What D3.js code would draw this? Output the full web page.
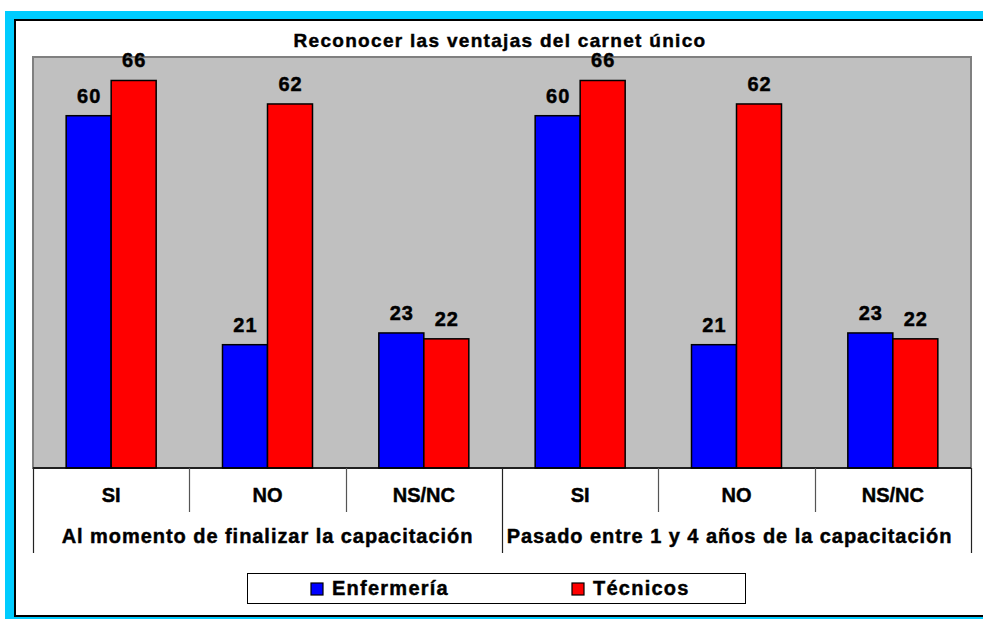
<!DOCTYPE html>
<html>
<head>
<meta charset="utf-8">
<script src="https://cdn.jsdelivr.net/npm/d3@7"></script>
<style>
  body { margin: 0; background: #fff; }
  svg { display: block; }
  svg text { font-family: Arial, "Liberation Sans", sans-serif; font-weight: 700; fill: #000; stroke: #000; stroke-width: 0.45px; }
</style>
</head>
<body>
<div id="chart"></div>
<script>
// Data
const groups = ["Al momento de finalizar la capacitación", "Pasado entre 1 y 4 años de la capacitación"];
const answers = ["SI", "NO", "NS/NC"];
const series = ["Enfermería", "Técnicos"];
const enfermeria = [60, 21, 23, 60, 21, 23];
const tecnicos = [66, 62, 22, 66, 62, 22];
const seriesColors = ["#0000FF", "#FF0000"];
const title = "Reconocer las ventajas del carnet único";

/*******************************/
/*    Declare the constants    */
/*******************************/
const width = 983;
const height = 619;
const plot = {left: 33, right: 971, top: 57, bottom: 468};

const svg = d3.select("#chart")
  .append("svg")
    .attr("width", width)
    .attr("height", height);

// Outer frame (cyan band with a black inner line)
svg.append("rect")
  .attr("x", 5).attr("y", 11)
  .attr("width", 1200).attr("height", 1200)
  .attr("fill", "#00CCFF");
svg.append("rect")
  .attr("x", 15).attr("y", 20)
  .attr("width", 1200).attr("height", 596)
  .attr("fill", "#fff")
  .attr("stroke", "#000")
  .attr("stroke-width", 2);

/****************************/
/*    Declare the scales    */
/****************************/
const keys = [];
groups.forEach((g, gi) => answers.forEach((a, ai) => keys.push({group: gi, answer: a, i: gi * answers.length + ai})));

const xScale = d3.scaleBand()
  .domain(keys.map(d => d.i))
  .range([plot.left, plot.right]);

const xSub = d3.scaleBand()
  .domain(series)
  .range([0, xScale.bandwidth()])
  .paddingOuter(0.737);

const yScale = d3.scaleLinear()
  .domain([0, 70])
  .range([plot.bottom, plot.top]);

// Plot area
svg.append("rect")
  .attr("x", plot.left).attr("y", plot.top)
  .attr("width", plot.right - plot.left)
  .attr("height", plot.bottom - plot.top)
  .attr("fill", "#C0C0C0")
  .attr("stroke", "#808080")
  .attr("stroke-width", 2);

// Title
svg.append("text")
  .attr("x", 500).attr("y", 47)
  .attr("text-anchor", "middle")
  .attr("font-size", 19)
  .attr("letter-spacing", 1.3)
  .text(title);

/******************************/
/*        Add the bars        */
/******************************/
const values = [enfermeria, tecnicos];
series.forEach((s, si) => {
  const g = svg.append("g");
  g.selectAll("rect")
    .data(keys)
    .join("rect")
      .attr("x", d => xScale(d.i) + xSub(s))
      .attr("y", d => yScale(values[si][d.i]))
      .attr("width", xSub.bandwidth())
      .attr("height", d => yScale(0) - yScale(values[si][d.i]))
      .attr("fill", seriesColors[si])
      .attr("stroke", "#000")
      .attr("stroke-width", 1.5);
  g.selectAll("text")
    .data(keys)
    .join("text")
      .attr("x", d => xScale(d.i) + xSub(s) + xSub.bandwidth() / 2 + 0.5)
      .attr("y", d => yScale(values[si][d.i]) - 13)
      .attr("text-anchor", "middle")
      .attr("font-size", 20)
      .attr("letter-spacing", 1)
      .text(d => values[si][d.i]);
});

/**************************/
/*      Category axis     */
/**************************/
svg.append("line")
  .attr("x1", plot.left).attr("x2", plot.right)
  .attr("y1", plot.bottom).attr("y2", plot.bottom)
  .attr("stroke", "#000").attr("stroke-width", 1.5);

// separators between answers and between groups
const bounds = d3.range(keys.length + 1);
svg.selectAll(".sep")
  .data(bounds)
  .join("line")
    .attr("class", "sep")
    .attr("x1", i => Math.round(plot.left + i * xScale.step()) + 0.5)
    .attr("x2", i => Math.round(plot.left + i * xScale.step()) + 0.5)
    .attr("y1", plot.bottom)
    .attr("y2", i => i % answers.length === 0 ? 553 : 512)
    .attr("stroke", i => i % answers.length === 0 ? "#222" : "#555")
    .attr("stroke-width", 1.2);

svg.selectAll(".answer")
  .data(keys)
  .join("text")
    .attr("class", "answer")
    .attr("x", d => xScale(d.i) + xScale.bandwidth() / 2)
    .attr("y", 502)
    .attr("text-anchor", "middle")
    .attr("font-size", 20)
    .text(d => d.answer);

svg.selectAll(".group")
  .data(groups)
  .join("text")
    .attr("class", "group")
    .attr("x", (d, gi) => xScale(gi * answers.length) + xScale.step() * answers.length / 2 - gi * 7)
    .attr("y", 543)
    .attr("text-anchor", "middle")
    .attr("font-size", 20)
    .attr("letter-spacing", 0.95)
    .text(d => d);

/**************************/
/*         Legend         */
/**************************/
const legend = svg.append("g");
legend.append("rect")
  .attr("x", 247.5).attr("y", 573.5)
  .attr("width", 498).attr("height", 30)
  .attr("fill", "#fff")
  .attr("stroke", "#000")
  .attr("stroke-width", 1);
const legendX = [311, 572];
series.forEach((s, si) => {
  legend.append("rect")
    .attr("x", legendX[si]).attr("y", 583)
    .attr("width", 12).attr("height", 12)
    .attr("fill", seriesColors[si])
    .attr("stroke", "#000")
    .attr("stroke-width", 1.2);
  legend.append("text")
    .attr("x", legendX[si] + 21).attr("y", 595)
    .attr("font-size", 20)
    .attr("letter-spacing", 1.25)
    .text(s);
});
</script>
</body>
</html>
